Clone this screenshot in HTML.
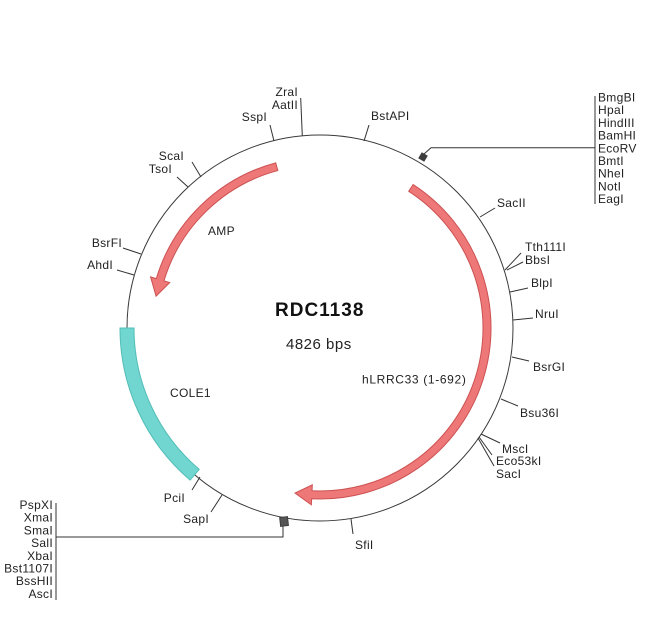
<!DOCTYPE html>
<html><head><meta charset="utf-8"><style>
html,body{margin:0;padding:0;background:#fff;}
svg{display:block;}
text{font-family:"Liberation Sans",Arial,sans-serif;fill:#222;font-size:12px;letter-spacing:0.3px;}
</style></head><body>
<svg width="650" height="637" viewBox="0 0 650 637" xmlns="http://www.w3.org/2000/svg">
<rect width="650" height="637" fill="#fff"/>
<!-- backbone -->
<circle cx="320" cy="328" r="193" fill="none" stroke="#3a3a3a" stroke-width="1"/>

<!-- COLE1 -->
<path d="M120,328 A200,200 0 0 0 190.11,480.08 L199.20,469.44 A186,186 0 0 1 134,328 Z" fill="#72d6d0" stroke="#52bdb7" stroke-width="1"/>

<!-- hLRRC33 -->
<path d="M413.13,184.58 A171,171 0 0 1 311.65,498.80 L311.35,504.79 L295.03,493.12 L312.33,484.81 L312.04,490.81 A163,163 0 0 0 408.77,191.29 Z" fill="#ee7777" stroke="#cc5252" stroke-width="1"/>

<!-- AMP -->
<path d="M275.74,162.83 A171,171 0 0 0 156.30,278.58 L150.55,276.84 L156.07,296.13 L169.70,282.62 L163.96,280.89 A163,163 0 0 1 277.81,170.55 Z" fill="#ee7777" stroke="#cc5252" stroke-width="1"/>

<!-- ticks -->
<g stroke="#333" stroke-width="1" fill="none">
<line x1="302.3" y1="136" x2="300.7" y2="98"/>
<line x1="274" y1="141" x2="270" y2="125"/>
<line x1="364" y1="141" x2="369" y2="125"/>
<line x1="201" y1="177" x2="192" y2="162"/>
<line x1="188" y1="187" x2="177" y2="177"/>
<line x1="480" y1="217" x2="495" y2="208"/>
<line x1="505" y1="270" x2="521" y2="253"/>
<line x1="507" y1="270" x2="523" y2="262"/>
<line x1="510" y1="292" x2="528" y2="288"/>
<line x1="513" y1="320" x2="533" y2="318"/>
<line x1="512" y1="357" x2="529" y2="361"/>
<line x1="501" y1="399" x2="518" y2="406"/>
<line x1="481" y1="434" x2="500" y2="443"/>
<line x1="479" y1="437" x2="492" y2="455"/>
<line x1="478" y1="438" x2="494" y2="466"/>
<line x1="200" y1="477" x2="192" y2="490"/>
<line x1="222" y1="495" x2="211" y2="512"/>
<line x1="351" y1="519" x2="353" y2="534"/>
<line x1="141" y1="254" x2="123" y2="248"/>
<line x1="134" y1="275" x2="117" y2="270"/>
<!-- MCS leader lines -->
<polyline points="424,154 431,147.7 595,147.7"/>
<line x1="595" y1="96" x2="595" y2="204"/>
<polyline points="283,526 283,537 56,537"/>
<line x1="56" y1="503" x2="56" y2="600"/>
</g>
<!-- MCS boxes -->
<rect x="419.5" y="153.5" width="7" height="7" fill="#3c3c3c" transform="rotate(31 423 157)"/>
<rect x="280" y="517" width="8" height="9" fill="#555" stroke="#333" stroke-width="0.8" transform="rotate(-6 284 521)"/>

<!-- labels -->
<g text-anchor="end">
<text x="298" y="96">ZraI</text>
<text x="298" y="109">AatII</text>
<text x="267" y="121">SspI</text>
<text x="184" y="160">ScaI</text>
<text x="172" y="173">TsoI</text>
<text x="122" y="247">BsrFI</text>
<text x="113" y="269">AhdI</text>
<text x="185" y="502">PciI</text>
<text x="209" y="523">SapI</text>
<text x="53" y="509">PspXI</text>
<text x="53" y="521.7">XmaI</text>
<text x="53" y="534.4">SmaI</text>
<text x="53" y="547.1">SalI</text>
<text x="53" y="559.8">XbaI</text>
<text x="53" y="572.5">Bst1107I</text>
<text x="53" y="585.2">BssHII</text>
<text x="53" y="597.9">AscI</text>
</g>
<g text-anchor="start">
<text x="371" y="120">BstAPI</text>
<text x="497" y="207">SacII</text>
<text x="525" y="251">Tth111I</text>
<text x="525" y="264">BbsI</text>
<text x="531" y="287">BlpI</text>
<text x="535" y="318">NruI</text>
<text x="533" y="371">BsrGI</text>
<text x="520" y="417">Bsu36I</text>
<text x="502" y="453">MscI</text>
<text x="496" y="465">Eco53kI</text>
<text x="496" y="478">SacI</text>
<text x="355" y="549">SfiI</text>
<text x="598" y="101.5">BmgBI</text>
<text x="598" y="114.2">HpaI</text>
<text x="598" y="126.9">HindIII</text>
<text x="598" y="139.6">BamHI</text>
<text x="598" y="152.3">EcoRV</text>
<text x="598" y="165">BmtI</text>
<text x="598" y="177.7">NheI</text>
<text x="598" y="190.4">NotI</text>
<text x="598" y="203.1">EagI</text>
<text x="208" y="235">AMP</text>
<text x="170" y="397">COLE1</text>
<text x="362" y="383.5" style="letter-spacing:0.65px">hLRRC33 (1-692)</text>
<text x="275" y="316" style="font-size:19px;font-weight:bold;letter-spacing:1px;fill:#111">RDC1138</text>
<text x="286" y="349" style="font-size:15px;letter-spacing:0.5px">4826 bps</text>
</g>
</svg>
</body></html>
